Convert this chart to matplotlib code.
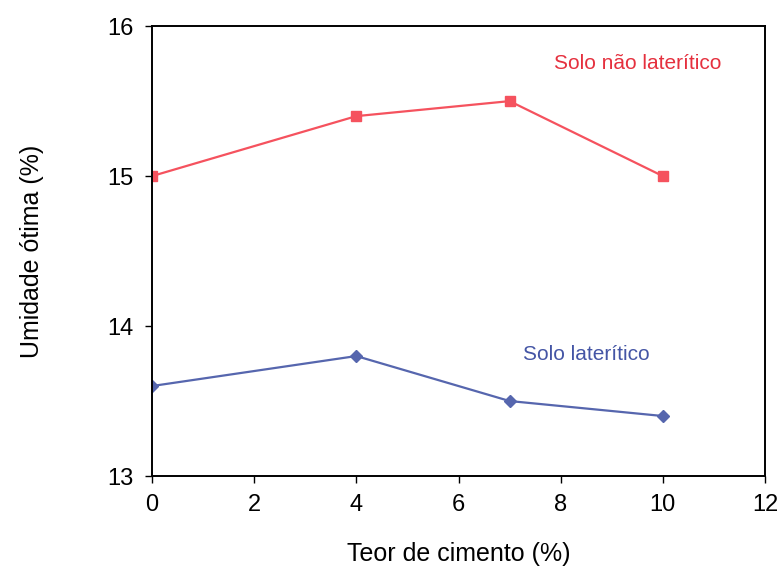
import matplotlib
matplotlib.use('Agg')
import matplotlib.pyplot as plt

plt.rcParams['font.family'] = ['Liberation Sans', 'DejaVu Sans']

teor = [0, 4, 7, 10]
nao_lateritico = [15.0, 15.4, 15.5, 15.0]
lateritico = [13.6, 13.8, 13.5, 13.4]

fig = plt.figure(figsize=(7.77, 5.76), dpi=100)
ax = fig.add_axes([0.1956, 0.1736, 0.789, 0.781])

ax.plot(teor, nao_lateritico, color='#F5525E', marker='s', markersize=7, linewidth=1.6)
ax.plot(teor, lateritico, color='#5666AE', marker='D', markersize=6.5, linewidth=1.6)

ax.text(9.5, 15.75, 'Solo não laterítico', color='#E5303E', fontsize=15, ha='center', va='center')
ax.text(8.5, 13.81, 'Solo laterítico', color='#4455A5', fontsize=15, ha='center', va='center')

ax.set_xlim(0, 12)
ax.set_ylim(13, 16)
ax.set_xticks(range(0, 13, 2))
ax.set_yticks([13, 14, 15, 16])
ax.tick_params(direction='out', length=5, width=1, labelsize=17, pad=8)
for s in ax.spines.values():
    s.set_linewidth(1.4)

ax.set_xlabel('Teor de cimento (%)', fontsize=18, labelpad=19)
ax.set_ylabel('Umidade ótima (%)', fontsize=18, labelpad=46)

fig.savefig('out.png', dpi=100)
